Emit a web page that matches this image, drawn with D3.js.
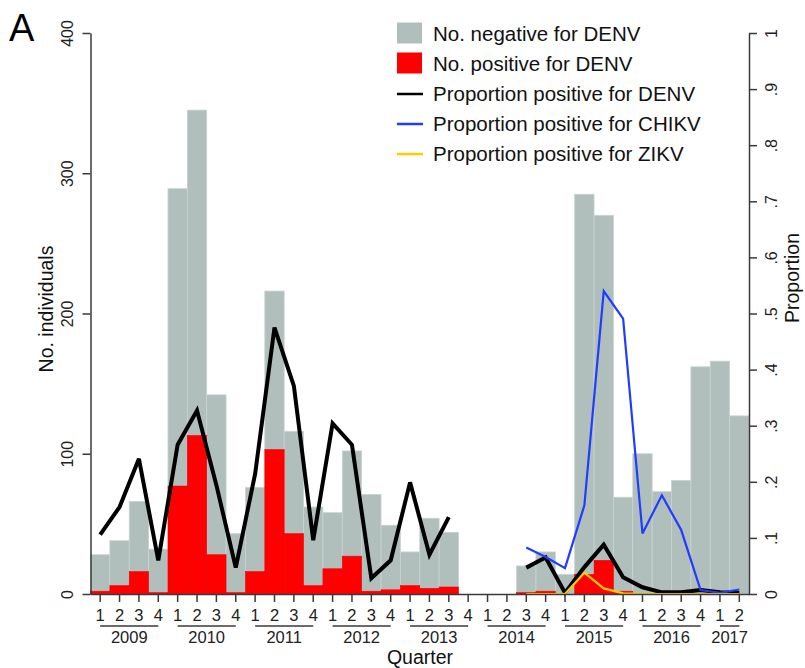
<!DOCTYPE html>
<html>
<head>
<meta charset="utf-8">
<script src="https://cdn.jsdelivr.net/npm/d3@7"></script>
<style>
  body { margin: 0; background: #fff; }
  svg { font-family: "Liberation Sans", Arial, sans-serif; }
</style>
</head>
<body>
<div id="canvas"></div>
<script>
// quarters 2009 Q1 .. 2017 Q2
const years = ["2009", "2010", "2011", "2012", "2013", "2014", "2015", "2016", "2017"];
const quarterLabels = ["1", "2", "3", "4"];
const keys = [];
years.forEach((yr) => {
  quarterLabels.forEach((q) => {
    if (yr === "2017" && +q > 2) return;
    keys.push(yr + "Q" + q);
  });
});

// counts
const negDENV = [26, 32, 50, 31, 212, 232, 114, 42, 60, 113, 73, 56, 40, 75, 69, 46, 24, 50, 39, 0,
  0, 0, 19, 28, 14, 271, 246, 67, 100, 73, 81, 162, 166, 127];
const posDENV = [2, 6, 16, 1, 77, 113, 28, 1, 16, 103, 43, 6, 18, 27, 2, 3, 6, 4, 5, 0,
  0, 0, 1, 2, 0, 14, 24, 2, 0, 0, 0, 0, 0, 0];

// proportions (null = no data)
const propDENV = [0.106, 0.155, 0.241, 0.06, 0.266, 0.327, 0.194, 0.047, 0.214, 0.475, 0.371, 0.096,
  0.304, 0.266, 0.028, 0.06, 0.199, 0.07, 0.137, null, null, null, 0.047, 0.065,
  0.002, 0.048, 0.088, 0.03, 0.012, 0.003, 0.003, 0.007, 0.003, 0.002];
const propCHIKV = [null, null, null, null, null, null, null, null, null, null, null, null,
  null, null, null, null, null, null, null, null, null, null, 0.083, 0.066,
  0.046, 0.158, 0.54, 0.491, 0.108, 0.176, 0.114, 0.007, 0.002, 0.008];
const propZIKV = [null, null, null, null, null, null, null, null, null, null, null, null,
  null, null, null, null, null, null, null, null, null, null, 0, 0,
  0, 0.038, 0.01, 0.001, 0, 0, 0, 0, 0, 0];

const leftTicks = [0, 100, 200, 300, 400];
const rightTicks = [0, 0.1, 0.2, 0.3, 0.4, 0.5, 0.6, 0.7, 0.8, 0.9, 1];
const rightTickLabels = ["0", ".1", ".2", ".3", ".4", ".5", ".6", ".7", ".8", ".9", "1"];

const width = 805;
const height = 668;
const grey = "#b0bfbc";
const red = "#ff0000";
const axisColor = "#3a3a3a";

const svg = d3.select("#canvas").append("svg").attr("width", width).attr("height", height);

const x = d3.scaleBand().domain(keys).range([90.5, 749]).padding(0);
const yL = d3.scaleLinear().domain([0, 400]).range([594, 33]);
const yR = d3.scaleLinear().domain([0, 1]).range([594, 33]);

const rows = keys.map((k, i) => ({ key: k, neg: negDENV[i], pos: posDENV[i] }));

// bars
svg.append("g")
  .selectAll("rect")
  .data(rows.filter((d) => d.neg > 0))
  .enter()
  .append("rect")
  .attr("fill", grey)
  .attr("stroke", "#c9d3d1")
  .attr("stroke-width", 0.8)
  .attr("x", (d) => x(d.key))
  .attr("width", x.bandwidth())
  .attr("y", (d) => yL(d.pos + d.neg))
  .attr("height", (d) => yL(d.pos) - yL(d.pos + d.neg));

svg.append("g")
  .selectAll("rect")
  .data(rows.filter((d) => d.pos > 0))
  .enter()
  .append("rect")
  .attr("fill", red)
  .attr("stroke", "#e60000")
  .attr("stroke-width", 0.6)
  .attr("x", (d) => x(d.key))
  .attr("width", x.bandwidth())
  .attr("y", (d) => yL(d.pos))
  .attr("height", (d) => yL(0) - yL(d.pos));

// proportion lines
const line = d3.line()
  .defined((d) => d.v !== null)
  .x((d) => x(d.key) + x.bandwidth() / 2)
  .y((d) => yR(d.v));

function drawLine(values, color, w) {
  svg.append("path")
    .datum(keys.map((k, i) => ({ key: k, v: values[i] })))
    .attr("fill", "none")
    .attr("stroke", color)
    .attr("stroke-width", w)
    .attr("stroke-linejoin", "miter")
    .attr("stroke-miterlimit", 3)
    .attr("d", line);
}
drawLine(propDENV, "#000", 4);
drawLine(propCHIKV, "#1f3cff", 2.2);
drawLine(propZIKV, "#ffcc00", 2.2);

// left axis
const gL = svg.append("g")
  .attr("transform", "translate(90.5,0)")
  .call(d3.axisLeft(yL).tickValues(leftTicks).tickSize(8).tickSizeOuter(0));
gL.selectAll("text")
  .attr("x", null).attr("dy", null)
  .attr("text-anchor", "middle")
  .attr("transform", "translate(-18,0) rotate(-90)")
  .style("font-size", "16px").attr("fill", "#222");

// right axis
const gR = svg.append("g")
  .attr("transform", "translate(749,0)")
  .call(d3.axisRight(yR).tickValues(rightTicks).tickSize(8).tickSizeOuter(0)
    .tickFormat((d, i) => rightTickLabels[i]));
gR.selectAll("text")
  .attr("x", null).attr("dy", null)
  .attr("text-anchor", "middle")
  .attr("transform", "translate(28,0) rotate(-90)")
  .style("font-size", "16px").attr("fill", "#222");

// bottom axis
const gB = svg.append("g")
  .attr("transform", "translate(0,594)")
  .call(d3.axisBottom(x).tickSize(8).tickSizeOuter(0).tickFormat((k) => k.slice(5)));
gB.selectAll("text")
  .attr("y", 15.5)
  .style("font-size", "16.5px").attr("fill", "#222");

[gL, gR, gB].forEach((g) => {
  g.selectAll("path, line").attr("stroke", axisColor).attr("stroke-width", 1.5);
});

// year groups
years.forEach((yr) => {
  const ks = keys.filter((k) => k.startsWith(yr));
  const x0 = x(ks[0]) + x.bandwidth() / 2;
  const x1 = x(ks[ks.length - 1]) + x.bandwidth() / 2;
  svg.append("line")
    .attr("x1", x0).attr("x2", x1)
    .attr("y1", 626).attr("y2", 626)
    .attr("stroke", axisColor).attr("stroke-width", 1.5);
  svg.append("text")
    .attr("x", (x0 + x1) / 2).attr("y", 643)
    .attr("text-anchor", "middle")
    .style("font-size", "16.5px").attr("fill", "#222")
    .text(yr);
});

// titles
svg.append("text")
  .attr("x", 420).attr("y", 664)
  .attr("text-anchor", "middle")
  .style("font-size", "19.5px").attr("fill", "#111")
  .text("Quarter");

svg.append("text")
  .attr("text-anchor", "middle")
  .attr("transform", "translate(53,309) rotate(-90)")
  .style("font-size", "19.5px").attr("fill", "#111")
  .text("No. individuals");

svg.append("text")
  .attr("text-anchor", "middle")
  .attr("transform", "translate(799,278) rotate(-90)")
  .style("font-size", "19.5px").attr("fill", "#111")
  .text("Proportion");

svg.append("text")
  .attr("x", 9).attr("y", 41)
  .style("font-size", "38px").attr("fill", "#000")
  .text("A");

// legend
const legend = [
  { label: "No. negative for DENV", type: "rect", color: grey },
  { label: "No. positive for DENV", type: "rect", color: red },
  { label: "Proportion positive for DENV", type: "line", color: "#000" },
  { label: "Proportion positive for CHIKV", type: "line", color: "#1f3cff" },
  { label: "Proportion positive for ZIKV", type: "line", color: "#ffcc00" }
];
const lg = svg.append("g").attr("transform", "translate(397,33)");
legend.forEach((d, i) => {
  const cy = i * 30;
  if (d.type === "rect") {
    lg.append("rect").attr("x", 0).attr("y", cy - 10.5).attr("width", 25).attr("height", 21).attr("fill", d.color);
  } else {
    lg.append("line").attr("x1", 0).attr("x2", 26).attr("y1", cy + 1).attr("y2", cy + 1)
      .attr("stroke", d.color).attr("stroke-width", 2.5);
  }
  lg.append("text")
    .attr("x", 36).attr("y", cy + 7.5)
    .style("font-size", "20.5px").attr("fill", "#111")
    .text(d.label);
});
</script>
</body>
</html>
